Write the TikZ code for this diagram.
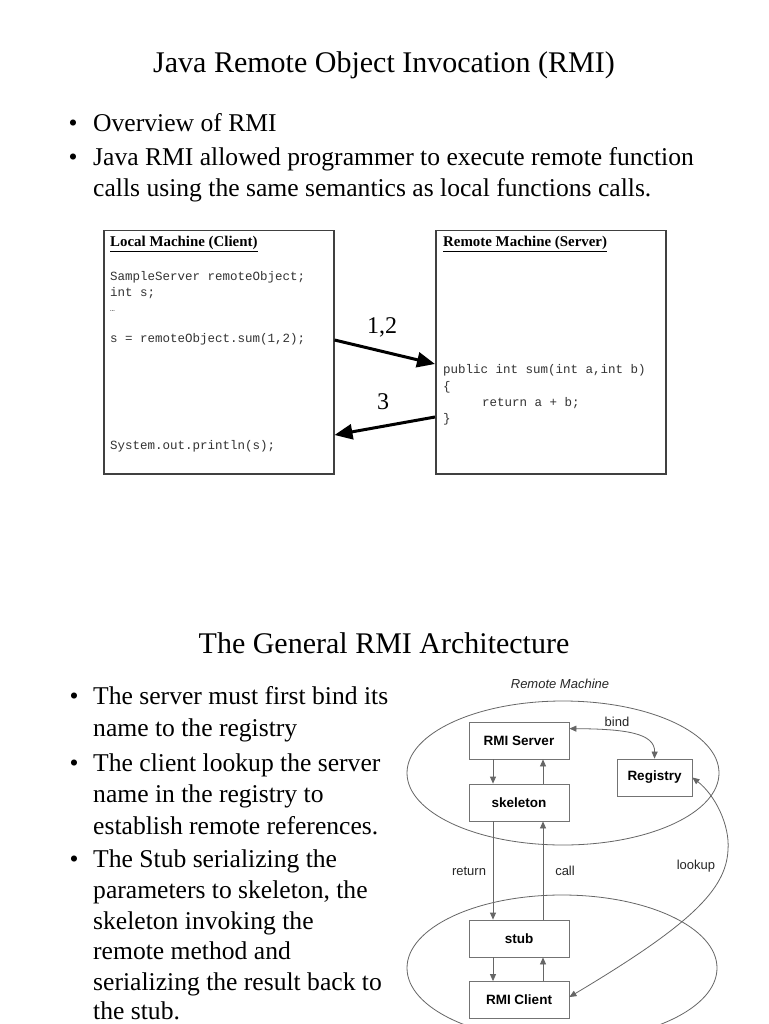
\documentclass[tikz,border=0pt]{standalone}
\usepackage{fontspec}
\setmainfont{Liberation Serif}
\newfontfamily\arialf{Liberation Sans}
\newfontfamily\courf{Liberation Mono}
\usetikzlibrary{arrows.meta,calc}
\begin{document}
\begin{tikzpicture}[x=1pt,y=-1pt,
 ttl/.style={inner sep=0pt, anchor=base, font=\fontsize{30}{36}\selectfont},
 bul/.style={inner sep=0pt, anchor=base west, font=\fontsize{25.6}{30}\selectfont},
 dotb/.style={inner sep=0pt, anchor=base, font=\fontsize{25.6}{30}\selectfont},
 code/.style={inner sep=0pt, anchor=base west, font=\courf\fontsize{12.5}{15}\selectfont, text=black!80},
 head/.style={inner sep=0pt, anchor=base west, font=\bfseries\fontsize{14.9}{17}\selectfont},
 machine/.style={draw=black!75, line width=1.5pt, inner sep=0pt, anchor=north west},
 bigarrow/.style={line width=3pt, -{Triangle[length=18pt,width=15pt]}},
 num/.style={inner sep=0pt, font=\fontsize{24}{28}\selectfont},
 blk/.style={draw=black!55, line width=0.8pt, minimum width=100pt, minimum height=37pt, font=\arialf\bfseries\fontsize{13.5}{16}\selectfont, inner sep=0pt},
 lbl/.style={inner sep=0pt, font=\arialf\fontsize{13}{15}\selectfont, text=black!85},
 thinline/.style={draw=black!60, line width=0.8pt},
 sarrow/.style={thinline, -{Triangle[length=7pt,width=6pt]}},
 darrow/.style={thinline, {Triangle[length=7pt,width=6pt]}-{Triangle[length=7pt,width=6pt]}},
]
\useasboundingbox (0,0) rectangle (768,1024);
\fill[white] (0,0) rectangle (768,1024);

% ---------- Slide 1 ----------
\node[ttl] (title1) at (384,73) {Java Remote Object Invocation (RMI)};
\node[dotb] (b1) at (73,132) {\textbullet};
\node[bul] (s1) at (93,132) {Overview of RMI};
\node[dotb] (b2) at (73,166) {\textbullet};
\node[bul] (s2) at (93,166) {Java RMI allowed programmer to execute remote function};
\node[bul] (s3) at (93,197) {calls using the same semantics as local functions calls.};

\node[machine, minimum width=230pt, minimum height=243pt] (client) at (103,230) {};
\node[machine, minimum width=230pt, minimum height=243pt] (server) at (435,230) {};

\node[head] (hc) at (110,247) {\underline{Local Machine (Client)}};
\node[code] (c1) at (110,280) {SampleServer remoteObject;};
\node[code] (c2) at (110,296) {int s;};
\node[code, font=\courf\fontsize{8}{10}\selectfont] (c3) at (110,311) {…};
\node[code] (c4) at (110,342) {s = remoteObject.sum(1,2);};
\node[code] (c5) at (110,449) {System.out.println(s);};

\node[head] (hs) at (443,247) {\underline{Remote Machine (Server)}};
\node[code] (r1) at (443,373) {public int sum(int a,int b)};
\node[code] (r2) at (443,390) {\{};
\node[code] (r3) at (482,406) {return a + b;};
\node[code] (r4) at (443,422) {\}};

\draw[bigarrow] ($(client.north east)+(0,110)$) -- ($(server.north west)+(0,134)$);
\draw[bigarrow] ($(server.north west)+(0,187)$) -- ($(client.north east)+(0,205)$);
\node[num] (n12) at (382,327) {1,2};
\node[num] (n3) at (383,402) {3};

% ---------- Slide 2 ----------
\node[ttl] (title2) at (384,653) {The General RMI Architecture};
\node[dotb] (d1) at (74,704) {\textbullet};
\node[bul] (u1) at (93,704) {The server must first bind its};
\node[bul] (u2) at (93,736) {name to the registry};
\node[dotb] (d2) at (74,771) {\textbullet};
\node[bul] (u3) at (93,771) {The client lookup the server};
\node[bul] (u4) at (93,802) {name in the registry to};
\node[bul] (u5) at (93,834) {establish remote references.};
\node[dotb] (d3) at (74,867) {\textbullet};
\node[bul] (u6) at (93,867) {The Stub serializing the};
\node[bul] (u7) at (93,898) {parameters to skeleton, the};
\node[bul] (u8) at (93,929) {skeleton invoking the};
\node[bul] (u9) at (93,959) {remote method and};
\node[bul] (u10) at (93,990) {serializing the result back to};
\node[bul] (u11) at (93,1019) {the stub.};

% diagram
\begin{scope}
\clip (0,0) rectangle (768,1024);
\draw[thinline] (563,773) ellipse [x radius=156, y radius=72];
\draw[thinline] (562,968) ellipse [x radius=155, y radius=73];
\end{scope}
\node[lbl, font=\arialf\itshape\fontsize{13}{15}\selectfont] (rm) at (560,684) {Remote Machine};

\node[blk] (srv) at (519,740.5) {RMI Server};
\node[blk] (skel) at (519,802.5) {skeleton};
\node[blk, minimum width=75pt] (reg) at (654.5,777.5) {Registry};
\node[blk] (stub) at (519,938.5) {stub};
\node[blk] (cli) at (519,1000) {RMI Client};

\draw[sarrow] ([xshift=-26pt]srv.south) -- ([xshift=-26pt]skel.north);
\draw[sarrow] ([xshift=24pt]skel.north) -- ([xshift=24pt]srv.south);
\draw[sarrow] ([xshift=-26pt]skel.south) -- ([xshift=-26pt]stub.north);
\draw[sarrow] ([xshift=24pt]stub.north) -- ([xshift=24pt]skel.south);
\draw[sarrow] ([xshift=-26pt]stub.south) -- ([xshift=-26pt]cli.north);
\draw[sarrow] ([xshift=24pt]cli.north) -- ([xshift=24pt]stub.south);

\draw[darrow] ($(srv.north east)+(0,7)$) .. controls (625,729) and (655,733) .. (reg.north);
\draw[darrow] (reg.east) .. controls (715,795) and (730,825) .. (728,850)
   .. controls (726,890) and (690,925) .. ($(cli.east)+(0,-3)$);

\node[lbl] (lbind) at (617,722) {bind};
\node[lbl] (lret) at (469,871) {return};
\node[lbl] (lcall) at (565,871) {call};
\node[lbl] (llook) at (696,866) {lookup};
\end{tikzpicture}
\end{document}
